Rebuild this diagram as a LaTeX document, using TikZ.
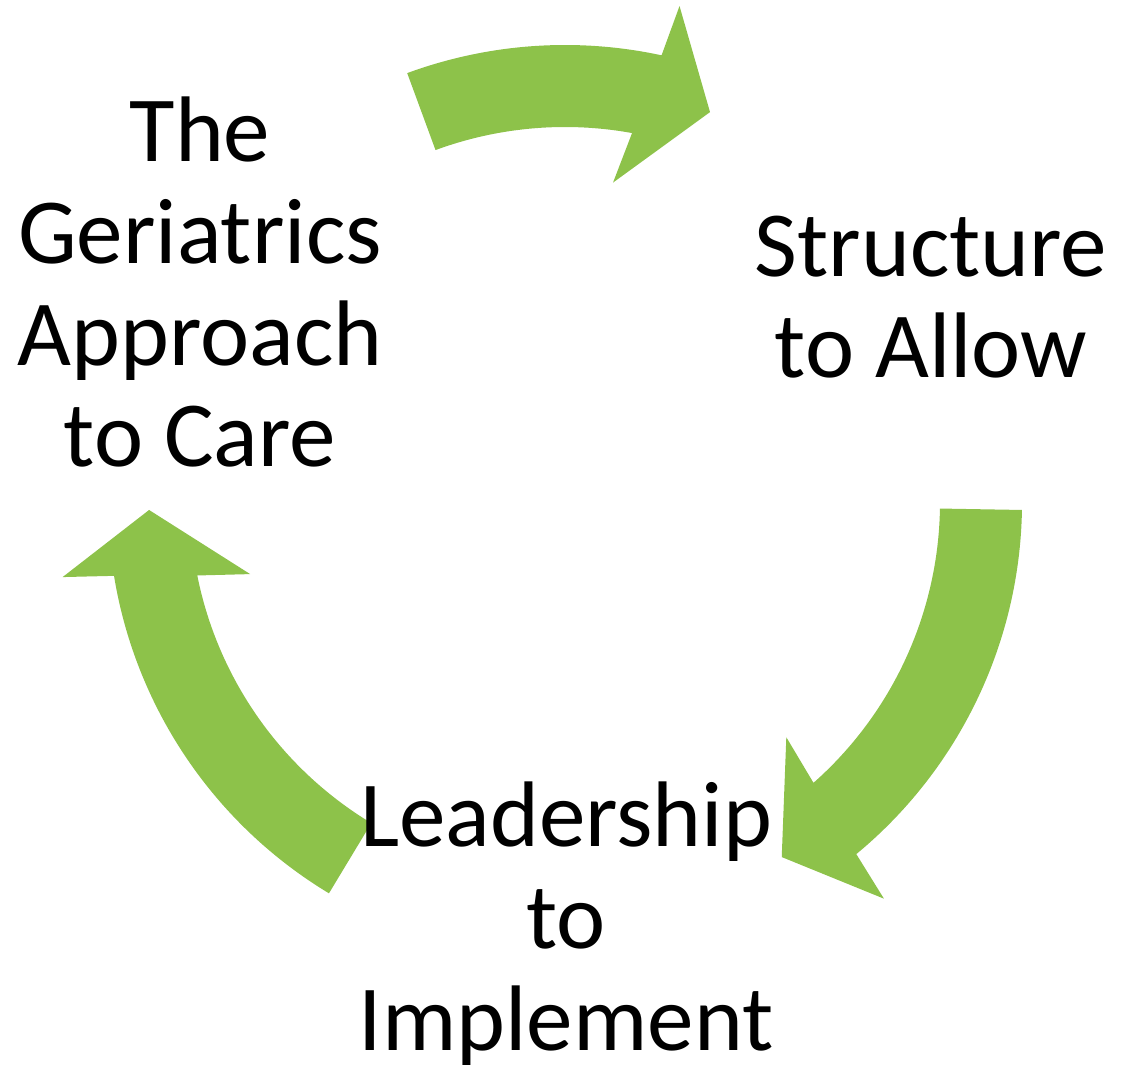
\documentclass[tikz,border=0pt]{standalone}
\usepackage{fontspec}
\setmainfont{Carlito}
\usepackage{xcolor}
\definecolor{arrowgreen}{RGB}{141,194,74}
\definecolor{labelblack}{RGB}{0,0,0}

\begin{document}
\begin{tikzpicture}[
    cyclearrow/.style={fill=arrowgreen, draw=none},
    cyclelabel/.style={text=labelblack, align=center, inner sep=0pt, font=\fontsize{26.5}{29}\selectfont}
]

% Canvas
\useasboundingbox (0,0) rectangle (11.27,10.71);

% Centre of the cycle
\coordinate (C) at (5.65,5.69);

\begin{scope}[shift={(C)}]
% 1. TOP ARROW (band between radius 3.75 and 4.57)
\fill[cyclearrow] (110.2:4.57) arc[start angle=110.2, end angle=77.8, radius=4.57]
    -- (77.0:5.09) -- (69.6:4.16) -- (81.45:3.23) -- (79.7:3.75)
    arc[start angle=79.7, end angle=110.2, radius=3.75] -- cycle;

% 2. RIGHT ARROW
\fill[cyclearrow] (-1.0:4.57) arc[start angle=-1.0, end angle=-50.4, radius=4.57]
    -- (-51.2:5.09) -- (-58.6:4.16) -- (-46.75:3.23) -- (-48.5:3.75)
    arc[start angle=-48.5, end angle=-1.0, radius=3.75] -- cycle;

% 3. LEFT ARROW
\fill[cyclearrow] (238.9:4.57) arc[start angle=238.9, end angle=189.3, radius=4.57]
    -- (188.5:5.08) -- (181.1:4.16) -- (192.9:3.23) -- (191.3:3.75)
    arc[start angle=191.3, end angle=238.9, radius=3.75] -- cycle;
\end{scope}

% Labels (drawn on top of the arrows), base = baseline of the last line
\node[cyclelabel, anchor=base] (geriatrics) at (2.00,6.04) {The\\Geriatrics\\Approach\\to Care};
\node[cyclelabel, anchor=base] (structure) at (9.31,6.93) {Structure\\to Allow};
\node[cyclelabel, anchor=base] (leadership) at (5.66,0.21) {Leadership\\to\\Implement};

\end{tikzpicture}
\end{document}
